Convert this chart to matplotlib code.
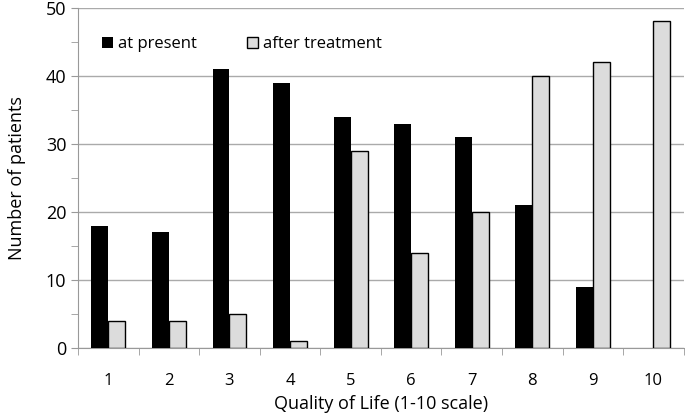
import matplotlib
matplotlib.use("Agg")
import numpy as np
import matplotlib.pyplot as plt
from matplotlib.ticker import MultipleLocator

plt.rcParams['font.family'] = ['Open Sans', 'DejaVu Sans']

# Quality of life scores (categories)
scores = [1, 2, 3, 4, 5, 6, 7, 8, 9, 10]
tick_labels = [str(s) for s in scores]

# Number of patients
at_present = [18, 17, 41, 39, 34, 33, 31, 21, 9, 0]
after_treatment = [4, 4, 5, 1, 29, 14, 20, 40, 42, 48]

x = np.arange(1, len(scores) + 1)
w = 0.28

fig = plt.figure(figsize=(6.85, 4.15), dpi=100)
ax = fig.add_axes([0.114, 0.161, 0.884, 0.82])

ax.bar(x - w / 2, at_present, width=w, color='black', linewidth=0,
       label='at present', zorder=3)
ax.bar(x + w / 2, after_treatment, width=w, color='#dcdcdc', edgecolor='black',
       linewidth=1, label='after treatment', zorder=3)

ax.set_xlim(0.5, 10.5)
ax.set_ylim(0, 50)
ax.yaxis.set_major_locator(MultipleLocator(10))
ax.yaxis.set_minor_locator(MultipleLocator(5))
ax.set_xticks(x)
ax.set_xticklabels(tick_labels)
ax.set_xticks(np.arange(0.5, 11, 1), minor=True)
ax.tick_params(axis='x', which='major', length=0, labelsize=12, pad=18)
ax.tick_params(axis='x', which='minor', length=5, color='#999999', direction='out')
ax.tick_params(axis='y', which='major', length=5, color='#999999', labelsize=13)
ax.tick_params(axis='y', which='minor', length=5, color='#999999')

ax.grid(axis='y', which='major', color='#aaaaaa', linewidth=1, zorder=0)
for side in ['top', 'right']:
    ax.spines[side].set_visible(False)
ax.spines['left'].set_color('#999999')
ax.spines['bottom'].set_color('#999999')

ax.set_xlabel('Quality of Life (1-10 scale)', fontsize=13, labelpad=4)
ax.set_ylabel('Number of patients', fontsize=13, labelpad=14)

ax.legend(loc='upper left', bbox_to_anchor=(0.015, 0.96), ncol=2, frameon=False,
          fontsize=12, handlelength=0.65, handleheight=0.65, handletextpad=0.3,
          columnspacing=3.0)

fig.savefig('out.png', dpi=100)
